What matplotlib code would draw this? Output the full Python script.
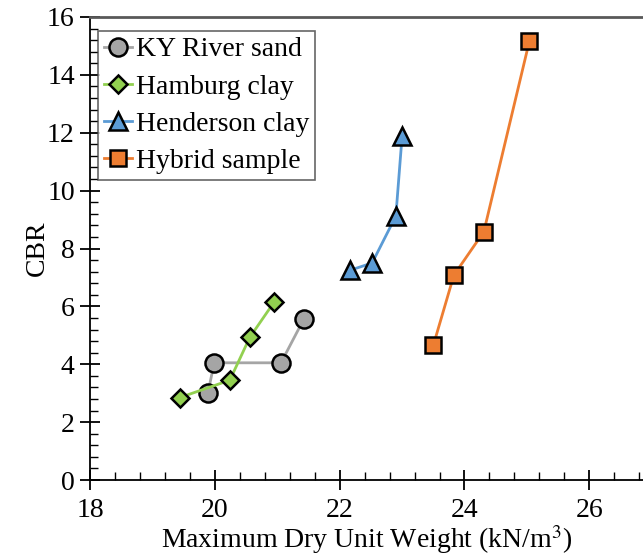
import matplotlib
matplotlib.use("Agg")
import matplotlib.pyplot as plt
from matplotlib.ticker import MultipleLocator

plt.rcParams['font.family'] = ['Liberation Serif', 'DejaVu Serif']
plt.rcParams['mathtext.fontset'] = 'stix'

ky_x = [19.89, 19.99, 21.06, 21.43]
ky_y = [3.02, 4.05, 4.05, 5.58]
ham_x = [19.44, 20.24, 20.56, 20.95]
ham_y = [2.85, 3.45, 4.93, 6.15]
hen_x = [22.17, 22.52, 22.90, 23.00]
hen_y = [7.25, 7.50, 9.12, 11.88]
hyb_x = [23.50, 23.83, 24.31, 25.04]
hyb_y = [4.65, 7.08, 8.58, 15.17]

series = [
    ("KY River sand", ky_x, ky_y, 'o', '#A5A5A5', '#A5A5A5', 13),
    ("Hamburg clay", ham_x, ham_y, 'D', '#92D050', '#92D050', 9),
    ("Henderson clay", hen_x, hen_y, '^', '#5B9BD5', '#5B9BD5', 13),
    ("Hybrid sample", hyb_x, hyb_y, 's', '#ED7D31', '#ED7D31', 12),
]

fig = plt.figure(figsize=(6.43, 5.59), dpi=100)
ax = fig.add_axes([0.14, 0.1413, 0.86, 0.8283])

for label, xs, ys, m, lc, fc, ms in series:
    ax.plot(xs, ys, color=lc, lw=2, marker=m, markersize=ms,
            markerfacecolor=fc, markeredgecolor='black', markeredgewidth=1.8,
            label=label)

ax.set_xlim(18, 26.86)
ax.set_ylim(0, 16)
ax.xaxis.set_major_locator(MultipleLocator(2))
ax.xaxis.set_minor_locator(MultipleLocator(0.4))
ax.yaxis.set_major_locator(MultipleLocator(2))
ax.yaxis.set_minor_locator(MultipleLocator(0.4))
ax.tick_params(which='major', direction='inout', length=14, width=1.3, labelsize=20)
ax.tick_params(axis='x', which='major', pad=6)
ax.tick_params(axis='y', which='major', pad=4)
ax.tick_params(which='minor', direction='in', length=6, width=1.0)
ax.spines['right'].set_visible(False)
ax.spines['top'].set_color('#595959')
ax.spines['top'].set_linewidth(2)
for s in ['left', 'bottom']:
    ax.spines[s].set_linewidth(1.3)

ax.set_xlabel('Maximum Dry Unit Weight (kN/m$^3$)', fontsize=20, labelpad=0)
ax.set_ylabel('CBR', fontsize=20, labelpad=-2)

leg = ax.legend(loc='upper left', bbox_to_anchor=(0.014, 0.97), fontsize=20,
                frameon=True, fancybox=False, edgecolor='#404040',
                handlelength=1.0, handletextpad=0.15, borderpad=0.22,
                labelspacing=0.42, borderaxespad=0.0)
leg.get_frame().set_linewidth(1.2)

fig.savefig('out.png', dpi=100)
